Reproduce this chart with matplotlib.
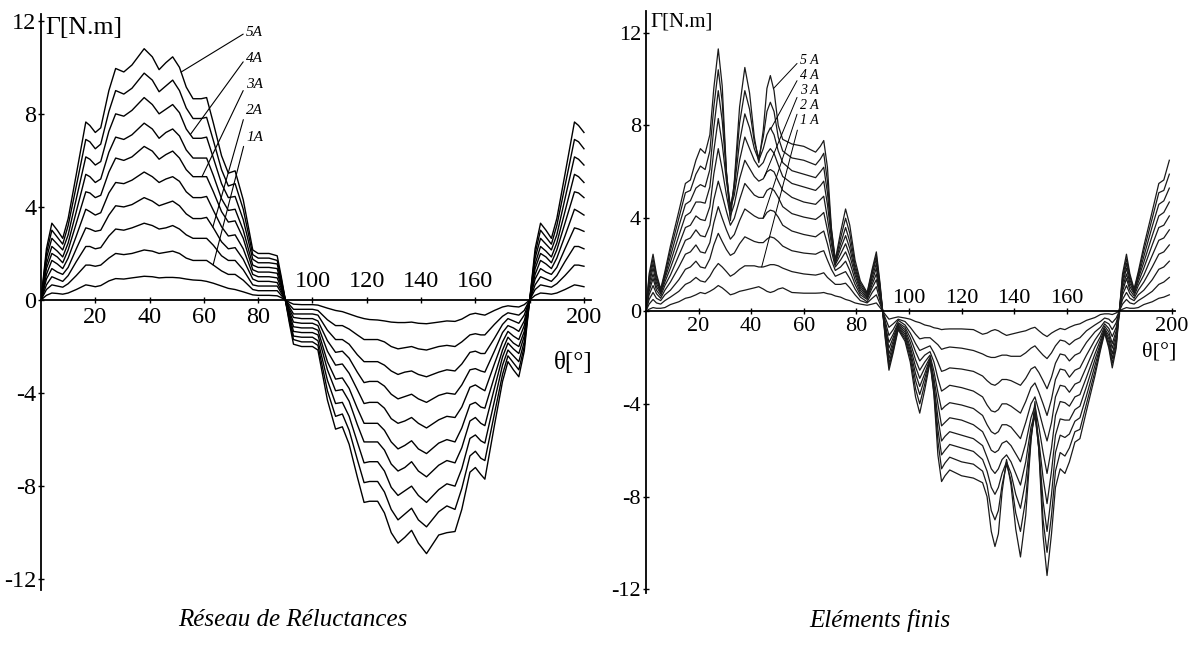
import numpy as np
import matplotlib.pyplot as plt

# ---- Réseau de réluctances (left) : torque vs rotor angle, 0.5 A .. 5 A ----
theta_left = [0, 2, 4, 6, 8, 10, 13, 16.5, 18, 20, 22, 25, 27.5, 30.5, 33.5, 38, 41, 43.5, 46, 48.5,
              51, 53.5, 56, 59, 61, 63.5, 66.5, 69, 71.5, 74.5, 78, 80, 84, 87, 88.5, 90,
              91.5, 93, 96, 100, 102, 105.5, 108.5, 111, 113.5, 116.5, 119, 121, 124, 126.5, 129, 131.5,
              134, 136.5, 139, 142, 146.5, 149.5, 152.5, 155, 158, 160, 162, 163.5, 167, 170, 172, 174,
              176, 178, 180,
              182, 184, 186, 188, 190, 193, 196.5, 198, 200]

L50 = [0, 2.2, 3.3, 3.0, 2.65, 3.5, 5.4, 7.65, 7.5, 7.2, 7.4, 9.0, 9.95, 9.8, 10.1, 10.8, 10.45, 9.9, 10.2, 10.45,
       10.0, 9.15, 8.65, 8.65, 8.7, 7.6, 6.2, 5.45, 5.55, 4.3, 2.15, 2.0, 2.0, 1.9, 1.0, 0,
       -1.0, -1.9, -2.0, -2.0, -2.15, -4.3, -5.55, -5.45, -6.2, -7.6, -8.7, -8.65, -8.65, -9.15, -10.0, -10.45,
       -10.2, -9.9, -10.45, -10.9, -10.1, -10.0, -9.95, -9.0, -7.4, -7.2, -7.5, -7.7, -5.4, -3.5, -2.65, -3.0,
       -3.3, -2.2, 0,
       2.2, 3.3, 3.0, 2.65, 3.5, 5.4, 7.65, 7.5, 7.2]
L45 = [0, 2.0, 3.0, 2.7, 2.4, 3.2, 4.9, 6.9, 6.8, 6.5, 6.7, 8.1, 9.0, 8.85, 9.1, 9.75, 9.45, 8.95, 9.2, 9.45,
       9.0, 8.25, 7.8, 7.8, 7.85, 6.85, 5.6, 4.9, 5.0, 3.9, 1.95, 1.8, 1.8, 1.7, 0.9, 0,
       -0.9, -1.7, -1.8, -1.8, -1.95, -3.9, -5.0, -4.9, -5.6, -6.85, -7.85, -7.8, -7.8, -8.25, -9.0, -9.45,
       -9.2, -8.95, -9.45, -9.75, -9.1, -8.85, -9.0, -8.1, -6.7, -6.5, -6.8, -6.9, -4.9, -3.2, -2.4, -2.7,
       -3.0, -2.0, 0,
       2.0, 3.0, 2.7, 2.4, 3.2, 4.9, 6.9, 6.8, 6.5]
L40 = [0, 1.8, 2.65, 2.4, 2.15, 2.8, 4.35, 6.15, 6.05, 5.8, 5.95, 7.25, 8.0, 7.9, 8.15, 8.7, 8.4, 8.0, 8.2, 8.4,
       8.05, 7.35, 6.95, 6.95, 7.0, 6.1, 5.0, 4.4, 4.45, 3.45, 1.75, 1.6, 1.6, 1.55, 0.8, 0,
       -0.8, -1.55, -1.6, -1.6, -1.75, -3.45, -4.45, -4.4, -5.0, -6.1, -7.0, -6.95, -6.95, -7.35, -8.05, -8.4,
       -8.2, -8.0, -8.4, -8.7, -8.15, -7.9, -8.0, -7.25, -5.95, -5.8, -6.05, -6.15, -4.35, -2.8, -2.15, -2.4,
       -2.65, -1.8, 0,
       1.8, 2.65, 2.4, 2.15, 2.8, 4.35, 6.15, 6.05, 5.8]
L35 = [0, 1.55, 2.3, 2.1, 1.85, 2.45, 3.8, 5.4, 5.3, 5.05, 5.2, 6.35, 7.0, 6.9, 7.1, 7.6, 7.35, 6.95, 7.2, 7.35,
       7.05, 6.45, 6.1, 6.1, 6.1, 5.35, 4.35, 3.85, 3.9, 3.0, 1.5, 1.4, 1.4, 1.35, 0.7, 0,
       -0.7, -1.35, -1.4, -1.4, -1.5, -3.0, -3.9, -3.85, -4.35, -5.35, -6.1, -6.1, -6.1, -6.45, -7.05, -7.35,
       -7.2, -6.95, -7.35, -7.6, -7.1, -6.9, -7.0, -6.35, -5.2, -5.05, -5.3, -5.4, -3.8, -2.45, -1.85, -2.1,
       -2.3, -1.55, 0,
       1.55, 2.3, 2.1, 1.85, 2.45, 3.8, 5.4, 5.3, 5.05]
L30 = [0, 1.35, 2.0, 1.85, 1.6, 2.15, 3.3, 4.65, 4.6, 4.4, 4.5, 5.5, 6.1, 6.0, 6.15, 6.6, 6.4, 6.05, 6.25, 6.4,
       6.1, 5.6, 5.3, 5.3, 5.3, 4.65, 3.8, 3.35, 3.4, 2.65, 1.3, 1.2, 1.2, 1.15, 0.6, 0,
       -0.6, -1.15, -1.2, -1.2, -1.3, -2.65, -3.4, -3.35, -3.8, -4.65, -5.3, -5.3, -5.3, -5.6, -6.1, -6.4,
       -6.25, -6.05, -6.4, -6.6, -6.15, -6.0, -6.1, -5.5, -4.5, -4.4, -4.6, -4.65, -3.3, -2.15, -1.6, -1.85,
       -2.0, -1.35, 0,
       1.35, 2.0, 1.85, 1.6, 2.15, 3.3, 4.65, 4.6, 4.4]
L25 = [0, 1.1, 1.7, 1.55, 1.35, 1.8, 2.75, 3.9, 3.8, 3.65, 3.75, 4.6, 5.05, 5.0, 5.15, 5.5, 5.3, 5.05, 5.2, 5.3,
       5.1, 4.65, 4.4, 4.4, 4.45, 3.85, 3.15, 2.75, 2.8, 2.2, 1.1, 1.0, 1.0, 0.95, 0.5, 0,
       -0.5, -0.95, -1.0, -1.0, -1.1, -2.2, -2.8, -2.75, -3.15, -3.85, -4.45, -4.4, -4.4, -4.65, -5.1, -5.3,
       -5.2, -5.05, -5.3, -5.5, -5.15, -5.0, -5.05, -4.6, -3.75, -3.65, -3.8, -3.9, -2.75, -1.8, -1.35, -1.55,
       -1.7, -1.1, 0,
       1.1, 1.7, 1.55, 1.35, 1.8, 2.75, 3.9, 3.8, 3.65]
L20 = [0, 0.9, 1.35, 1.2, 1.1, 1.4, 2.2, 3.1, 3.05, 2.95, 3.0, 3.65, 4.05, 4.0, 4.1, 4.4, 4.25, 4.05, 4.15, 4.25,
       4.05, 3.7, 3.5, 3.5, 3.55, 3.1, 2.5, 2.2, 2.25, 1.75, 0.9, 0.8, 0.8, 0.75, 0.4, 0,
       -0.4, -0.75, -0.8, -0.8, -0.9, -1.75, -2.25, -2.2, -2.5, -3.1, -3.55, -3.5, -3.5, -3.7, -4.05, -4.25,
       -4.15, -4.05, -4.25, -4.4, -4.1, -4.0, -4.05, -3.65, -3.0, -2.95, -3.05, -3.1, -2.2, -1.4, -1.1, -1.2,
       -1.35, -0.9, 0,
       0.9, 1.35, 1.2, 1.1, 1.4, 2.2, 3.1, 3.05, 2.95]
L15 = [0, 0.65, 1.0, 0.9, 0.8, 1.05, 1.65, 2.3, 2.3, 2.2, 2.25, 2.75, 3.05, 3.0, 3.1, 3.3, 3.2, 3.05, 3.1, 3.2,
       3.05, 2.8, 2.65, 2.65, 2.65, 2.35, 1.9, 1.7, 1.7, 1.3, 0.65, 0.6, 0.6, 0.6, 0.3, 0,
       -0.3, -0.6, -0.6, -0.6, -0.65, -1.3, -1.7, -1.7, -1.9, -2.35, -2.65, -2.65, -2.65, -2.8, -3.05, -3.2,
       -3.1, -3.05, -3.2, -3.3, -3.1, -3.0, -3.05, -2.75, -2.25, -2.2, -2.3, -2.3, -1.65, -1.05, -0.8, -0.9,
       -1.0, -0.65, 0,
       0.65, 1.0, 0.9, 0.8, 1.05, 1.65, 2.3, 2.3, 2.2]
L10 = [0, 0.45, 0.65, 0.6, 0.55, 0.7, 1.05, 1.5, 1.5, 1.45, 1.5, 1.8, 2.0, 1.95, 2.0, 2.15, 2.1, 2.0, 2.05, 2.1,
       2.0, 1.8, 1.7, 1.7, 1.7, 1.5, 1.25, 1.1, 1.1, 0.85, 0.45, 0.4, 0.4, 0.4, 0.2, 0,
       -0.2, -0.4, -0.4, -0.4, -0.45, -0.85, -1.1, -1.1, -1.25, -1.5, -1.7, -1.7, -1.7, -1.8, -2.0, -2.1,
       -2.05, -2.0, -2.1, -2.15, -2.0, -1.95, -2.0, -1.8, -1.5, -1.45, -1.5, -1.5, -1.05, -0.7, -0.55, -0.6,
       -0.65, -0.45, 0,
       0.45, 0.65, 0.6, 0.55, 0.7, 1.05, 1.5, 1.5, 1.45]
L05 = [0, 0.2, 0.3, 0.28, 0.25, 0.3, 0.45, 0.65, 0.62, 0.57, 0.62, 0.82, 0.92, 0.9, 0.95, 1.02, 1.0, 0.95, 0.97, 0.97,
       0.95, 0.9, 0.86, 0.84, 0.8, 0.72, 0.6, 0.5, 0.45, 0.35, 0.22, 0.2, 0.2, 0.18, 0.1, 0,
       -0.1, -0.18, -0.2, -0.2, -0.22, -0.35, -0.45, -0.5, -0.6, -0.72, -0.8, -0.84, -0.86, -0.9, -0.95, -0.97,
       -0.97, -0.95, -1.0, -1.02, -0.95, -0.9, -0.92, -0.82, -0.62, -0.57, -0.62, -0.65, -0.45, -0.3, -0.25, -0.28,
       -0.3, -0.2, 0,
       0.2, 0.3, 0.28, 0.25, 0.3, 0.45, 0.65, 0.62, 0.57]

# ---- Eléments finis (right) ----
theta_right = [0, 1.2, 2.7, 4.0, 5.6, 7.2, 9.3, 12.5, 15.0, 16.9, 19.0, 20.7, 22.5, 24.3, 25.8, 27.5, 29.0,
               30.6, 32.1, 33.6, 35.6, 37.6, 39.4, 41.2, 42.9, 44.6, 46.0, 47.3, 48.7, 50.3, 52.0, 55.5, 60.0,
               64.5, 66.3, 67.6, 69.0, 70.5, 72.0, 74.0, 75.9, 77.5, 79.5, 81.5, 84.1, 86.0, 87.6, 89.0, 90.0,
               91.0, 92.4, 94.0, 95.9, 98.5, 100.5, 102.5, 104.1, 106.0, 108.0, 109.5, 111.0, 112.4, 113.7,
               115.5, 120.0, 124.5, 128.0, 129.7, 131.3, 132.7, 134.0, 135.4, 137.1, 138.8, 140.6, 142.4, 144.4,
               146.4, 147.9, 149.4, 151.0, 152.5, 154.2, 155.7, 157.5, 159.3, 161.0, 163.1, 165.0, 167.5, 170.7,
               172.8, 174.4, 176.0, 177.3, 178.8, 180,
               181.2, 182.7, 184.0, 185.6, 187.2, 189.3, 192.5, 195.0, 196.9, 199.0]

R50 = [0, 1.6, 2.45, 1.6, 0.95, 1.7, 2.8, 4.3, 5.5, 5.65, 6.5, 7.0, 6.8, 7.6, 9.6, 11.3, 9.7, 6.0, 3.9, 5.6,
       8.8, 10.5, 9.4, 7.5, 6.4, 7.8, 9.6, 10.15, 9.5, 8.0, 7.4, 7.2, 7.1, 6.85, 7.1, 7.35, 6.2, 3.6, 2.2, 3.4,
       4.4, 3.7, 2.2, 1.3, 0.8, 1.8, 2.55, 1.2, 0,
       -1.2, -2.55, -1.8, -0.8, -1.3, -2.2, -3.7, -4.4, -3.4, -2.2, -3.6, -6.2, -7.35, -7.1, -6.85, -7.1,
       -7.2, -7.4, -8.0, -9.5, -10.15, -9.6, -7.8, -6.4, -7.5, -9.4, -10.6, -8.8, -5.6, -3.9, -6.0, -9.7,
       -11.4, -9.6, -7.6, -6.8, -7.0, -6.5, -5.65, -5.5, -4.3, -2.8, -1.7, -0.95, -1.6, -2.45, -1.6, 0,
       1.6, 2.45, 1.6, 0.95, 1.7, 2.8, 4.3, 5.5, 5.65, 6.5]
R45 = [0, 1.45, 2.25, 1.5, 0.9, 1.6, 2.6, 4.0, 5.1, 5.2, 5.9, 6.25, 6.1, 6.9, 8.8, 10.4, 9.0, 6.0, 4.3, 5.5,
       8.1, 9.5, 8.7, 7.3, 6.6, 7.5, 8.6, 9.0, 8.6, 7.5, 6.9, 6.6, 6.5, 6.3, 6.55, 6.8, 5.6, 3.5, 2.15, 3.15,
       4.0, 3.35, 2.0, 1.2, 0.75, 1.7, 2.4, 1.1, 0,
       -1.1, -2.4, -1.7, -0.75, -1.2, -2.0, -3.35, -4.0, -3.15, -2.15, -3.5, -5.6, -6.8, -6.55, -6.3, -6.5,
       -6.6, -6.9, -7.5, -8.6, -9.0, -8.6, -7.5, -6.6, -7.3, -8.7, -9.5, -8.1, -5.5, -4.3, -6.0, -9.0,
       -10.4, -8.8, -6.9, -6.1, -6.25, -5.9, -5.2, -5.1, -4.0, -2.6, -1.6, -0.9, -1.5, -2.25, -1.45, 0,
       1.45, 2.25, 1.5, 0.9, 1.6, 2.6, 4.0, 5.1, 5.2, 5.9]
R40 = [0, 1.3, 2.05, 1.35, 0.85, 1.5, 2.35, 3.65, 4.6, 4.75, 5.3, 5.45, 5.35, 6.1, 7.9, 9.5, 8.2, 5.9, 4.5, 5.3,
       7.3, 8.5, 7.9, 7.0, 6.5, 7.0, 7.6, 7.9, 7.6, 6.9, 6.4, 6.05, 5.9, 5.75, 6.0, 6.2, 5.1, 3.35, 2.1, 2.9,
       3.6, 3.0, 1.85, 1.1, 0.7, 1.6, 2.25, 1.0, 0,
       -1.0, -2.25, -1.6, -0.7, -1.1, -1.85, -3.0, -3.6, -2.9, -2.1, -3.35, -5.1, -6.2, -6.0, -5.75, -5.9,
       -6.05, -6.4, -6.9, -7.6, -7.9, -7.6, -7.0, -6.5, -7.0, -7.9, -8.5, -7.3, -5.3, -4.5, -5.9, -8.2,
       -9.5, -7.9, -6.1, -5.35, -5.45, -5.3, -4.75, -4.6, -3.65, -2.35, -1.5, -0.85, -1.35, -2.05, -1.3, 0,
       1.3, 2.05, 1.35, 0.85, 1.5, 2.35, 3.65, 4.6, 4.75, 5.3]
R35 = [0, 1.15, 1.85, 1.2, 0.8, 1.4, 2.1, 3.25, 4.1, 4.25, 4.7, 4.7, 4.65, 5.35, 6.9, 8.3, 7.2, 5.6, 4.4, 5.0,
       6.5, 7.5, 7.0, 6.5, 6.2, 6.4, 6.8, 7.0, 6.8, 6.3, 5.8, 5.5, 5.35, 5.2, 5.4, 5.6, 4.6, 3.15, 2.05, 2.7,
       3.25, 2.7, 1.7, 1.0, 0.65, 1.45, 2.05, 0.9, 0,
       -0.9, -2.05, -1.45, -0.65, -1.0, -1.7, -2.7, -3.25, -2.7, -2.05, -3.15, -4.6, -5.6, -5.4, -5.2, -5.35,
       -5.5, -5.8, -6.3, -6.8, -7.0, -6.8, -6.4, -6.2, -6.5, -7.0, -7.5, -6.5, -5.0, -4.4, -5.6, -7.2,
       -8.3, -6.9, -5.35, -4.65, -4.7, -4.7, -4.25, -4.1, -3.25, -2.1, -1.4, -0.8, -1.2, -1.85, -1.15, 0,
       1.15, 1.85, 1.2, 0.8, 1.4, 2.1, 3.25, 4.1, 4.25, 4.7]
R30 = [0, 1.0, 1.6, 1.05, 0.75, 1.25, 1.85, 2.85, 3.6, 3.7, 4.1, 3.95, 3.9, 4.5, 5.9, 7.0, 6.1, 5.0, 4.1, 4.6,
       5.7, 6.5, 6.15, 5.8, 5.6, 5.7, 6.0, 6.1, 6.0, 5.6, 5.2, 4.9, 4.7, 4.6, 4.8, 4.95, 4.0, 2.9, 2.0, 2.45,
       2.9, 2.4, 1.55, 0.9, 0.6, 1.3, 1.85, 0.8, 0,
       -0.8, -1.85, -1.3, -0.6, -0.9, -1.55, -2.4, -2.9, -2.45, -2.0, -2.9, -4.0, -4.95, -4.8, -4.6, -4.7,
       -4.9, -5.2, -5.6, -6.0, -6.1, -6.0, -5.7, -5.6, -5.8, -6.15, -6.5, -5.7, -4.6, -4.1, -5.0, -6.1,
       -7.0, -5.9, -4.5, -3.9, -3.95, -4.1, -3.7, -3.6, -2.85, -1.85, -1.25, -0.75, -1.05, -1.6, -1.0, 0,
       1.0, 1.6, 1.05, 0.75, 1.25, 1.85, 2.85, 3.6, 3.7, 4.1]
R25 = [0, 0.85, 1.4, 0.9, 0.65, 1.1, 1.55, 2.4, 3.05, 3.15, 3.5, 3.25, 3.2, 3.7, 4.8, 5.6, 5.0, 4.3, 3.7, 4.0,
       4.8, 5.5, 5.25, 5.0, 4.9, 4.9, 5.2, 5.3, 5.2, 4.9, 4.5, 4.2, 4.05, 3.95, 4.1, 4.25, 3.5, 2.6, 1.9, 2.2,
       2.55, 2.1, 1.35, 0.8, 0.55, 1.15, 1.6, 0.7, 0,
       -0.7, -1.6, -1.15, -0.55, -0.8, -1.35, -2.1, -2.55, -2.2, -1.9, -2.6, -3.5, -4.25, -4.1, -3.95, -4.05,
       -4.2, -4.5, -4.9, -5.2, -5.3, -5.2, -4.9, -4.9, -5.0, -5.25, -5.5, -4.8, -4.0, -3.7, -4.3, -5.0,
       -5.6, -4.8, -3.7, -3.2, -3.25, -3.5, -3.15, -3.05, -2.4, -1.55, -1.1, -0.65, -0.9, -1.4, -0.85, 0,
       0.85, 1.4, 0.9, 0.65, 1.1, 1.55, 2.4, 3.05, 3.15, 3.5]
R20 = [0, 0.7, 1.1, 0.75, 0.55, 0.9, 1.25, 1.9, 2.45, 2.55, 2.85, 2.55, 2.5, 2.95, 3.8, 4.5, 4.0, 3.5, 3.1, 3.3,
       3.9, 4.4, 4.25, 4.1, 4.0, 4.0, 4.25, 4.35, 4.3, 4.05, 3.7, 3.45, 3.3, 3.2, 3.35, 3.45, 2.9, 2.2, 1.75, 1.9,
       2.15, 1.75, 1.15, 0.7, 0.5, 1.0, 1.35, 0.6, 0,
       -0.6, -1.35, -1.0, -0.5, -0.7, -1.15, -1.75, -2.15, -1.9, -1.75, -2.2, -2.9, -3.45, -3.35, -3.2, -3.3,
       -3.45, -3.7, -4.05, -4.3, -4.35, -4.25, -4.0, -4.0, -4.1, -4.25, -4.4, -3.9, -3.3, -3.1, -3.5, -4.0,
       -4.5, -3.8, -2.95, -2.5, -2.55, -2.85, -2.55, -2.45, -1.9, -1.25, -0.9, -0.55, -0.75, -1.1, -0.7, 0,
       0.7, 1.1, 0.75, 0.55, 0.9, 1.25, 1.9, 2.45, 2.55, 2.85]
R15 = [0, 0.5, 0.8, 0.55, 0.45, 0.7, 0.9, 1.35, 1.8, 1.9, 2.15, 1.9, 1.85, 2.25, 2.85, 3.35, 3.0, 2.65, 2.4, 2.5,
       2.9, 3.2, 3.1, 3.0, 2.95, 2.95, 3.1, 3.2, 3.15, 3.0, 2.8, 2.6, 2.5, 2.45, 2.55, 2.6, 2.2, 1.8, 1.5, 1.6,
       1.7, 1.4, 0.95, 0.6, 0.4, 0.8, 1.05, 0.45, 0,
       -0.45, -1.05, -0.8, -0.4, -0.6, -0.95, -1.4, -1.7, -1.6, -1.5, -1.8, -2.2, -2.6, -2.55, -2.45, -2.5,
       -2.6, -2.8, -3.0, -3.15, -3.2, -3.1, -2.95, -2.95, -3.0, -3.1, -3.2, -2.9, -2.5, -2.4, -2.65, -3.0,
       -3.35, -2.85, -2.25, -1.85, -1.9, -2.15, -1.9, -1.8, -1.35, -0.9, -0.7, -0.45, -0.55, -0.8, -0.5, 0,
       0.5, 0.8, 0.55, 0.45, 0.7, 0.9, 1.35, 1.8, 1.9, 2.15]
R10 = [0, 0.3, 0.5, 0.35, 0.3, 0.45, 0.6, 0.85, 1.15, 1.25, 1.45, 1.3, 1.25, 1.5, 1.8, 2.05, 1.9, 1.7, 1.5, 1.6,
       1.8, 1.95, 1.95, 1.95, 1.9, 1.9, 1.95, 2.0, 2.0, 1.95, 1.85, 1.7, 1.6, 1.55, 1.6, 1.65, 1.45, 1.3, 1.15, 1.15,
       1.2, 1.0, 0.7, 0.45, 0.35, 0.55, 0.7, 0.3, 0,
       -0.3, -0.7, -0.55, -0.35, -0.45, -0.7, -1.0, -1.2, -1.15, -1.15, -1.3, -1.45, -1.65, -1.6, -1.55, -1.6,
       -1.7, -1.85, -1.95, -2.0, -2.0, -1.95, -1.9, -1.9, -1.95, -1.95, -1.95, -1.8, -1.6, -1.5, -1.7, -1.9,
       -2.05, -1.8, -1.5, -1.25, -1.3, -1.45, -1.25, -1.15, -0.85, -0.6, -0.45, -0.3, -0.35, -0.5, -0.3, 0,
       0.3, 0.5, 0.35, 0.3, 0.45, 0.6, 0.85, 1.15, 1.25, 1.45]
R05 = [0, 0.08, 0.15, 0.12, 0.12, 0.15, 0.28, 0.4, 0.55, 0.6, 0.7, 0.8, 0.75, 0.85, 0.95, 1.1, 1.0, 0.85, 0.7, 0.75,
       0.85, 0.9, 0.95, 1.0, 1.05, 0.95, 0.85, 0.8, 0.85, 0.95, 1.0, 0.8, 0.77, 0.77, 0.78, 0.8, 0.75, 0.72, 0.65, 0.6,
       0.5, 0.45, 0.35, 0.3, 0.25, 0.3, 0.35, 0.15, 0,
       -0.15, -0.35, -0.3, -0.25, -0.3, -0.35, -0.45, -0.5, -0.6, -0.65, -0.72, -0.75, -0.8, -0.78, -0.77, -0.77,
       -0.8, -1.0, -0.95, -0.85, -0.8, -0.85, -0.95, -1.05, -1.0, -0.95, -0.9, -0.85, -0.75, -0.7, -0.85, -1.0,
       -1.1, -0.95, -0.85, -0.75, -0.8, -0.7, -0.6, -0.55, -0.4, -0.28, -0.15, -0.12, -0.12, -0.15, -0.08, 0,
       0.08, 0.15, 0.12, 0.12, 0.15, 0.28, 0.4, 0.55, 0.6, 0.7]

left_curves = [L05, L10, L15, L20, L25, L30, L35, L40, L45, L50]
right_curves = [R05, R10, R15, R20, R25, R30, R35, R40, R45, R50]

plt.rcParams["font.family"] = ["Liberation Serif", "DejaVu Serif"]

fig = plt.figure(figsize=(11.92, 6.48), dpi=100)
ax1 = fig.add_axes([0.0344, 0.090, 0.4612, 0.8887])
ax2 = fig.add_axes([0.5419, 0.085, 0.4435, 0.8986])


def style_axes(ax, xmax, ylim, tick_size, up_off, down_off):
    ax.set_xlim(0, xmax)
    ax.set_ylim(*ylim)
    for side in ["top", "right"]:
        ax.spines[side].set_visible(False)
    for side in ["left", "bottom"]:
        ax.spines[side].set_position(("data", 0))
        ax.spines[side].set_linewidth(1.3)
    ax.set_yticks([-12, -8, -4, 0, 4, 8, 12])
    ax.set_yticklabels(["-12", "-8", "-4", "0", "4", "8", "12"], fontsize=tick_size)
    ax.set_xticks(range(20, 201, 20))
    ax.set_xticklabels([])
    ax.tick_params(direction="inout", length=5, width=1, pad=1)
    # 20..80 and 200 under the axis, 100..160 above it (curves are below there)
    for t in [20, 40, 60, 80, 200]:
        ax.annotate(str(t), xy=(t, 0), xytext=(0, -down_off), textcoords="offset points",
                    ha="center", va="top", fontsize=tick_size)
    for t in [100, 120, 140, 160]:
        ax.annotate(str(t), xy=(t, 0), xytext=(0, up_off), textcoords="offset points",
                    ha="center", va="bottom", fontsize=tick_size)


# left panel
for c in left_curves:
    ax1.plot(theta_left, c, color="black", lw=1.0)
style_axes(ax1, 202.5, (-12.45, 12.3), 17.5, 6, 5)
ax1.text(1.5, 11.7, "Γ[N.m]", fontsize=18.5, ha="left", va="center")
ax1.text(196, -2.7, "θ[°]", fontsize=18, ha="center", va="center")

left_tags = [("5A", L50, 51.6, 11.5), ("4A", L40, 55, 10.4), ("3A", L30, 59.3, 9.25),
             ("2A", L20, 63.3, 8.15), ("1A", L10, 63.4, 7.0)]
for tag, curve, th, ytxt in left_tags:
    ax1.annotate(tag, xy=(th, np.interp(th, theta_left, curve)), xytext=(75.5, ytxt),
                 fontsize=11, style="italic", ha="left", va="center",
                 arrowprops=dict(arrowstyle="-", lw=0.8, color="black",
                                 shrinkA=0, shrinkB=0, relpos=(0, 0.5)))

# right panel
for c in right_curves:
    ax2.plot(theta_right, c, color="#1a1a1a", lw=0.9)
style_axes(ax2, 201, (-12.15, 12.95), 16, 2, 4)
ax2.text(1.5, 12.45, "Γ[N.m]", fontsize=15, ha="left", va="center")
ax2.text(195, -1.75, "θ[°]", fontsize=16, ha="center", va="center")

right_tags = [("5 A", R50, 48.5, 10.8), ("4 A", R40, 47.5, 10.15), ("3 A", R30, 45.0, 9.5),
              ("2 A", R20, 44.5, 8.85), ("1 A", R10, 44.0, 8.2)]
for tag, curve, th, ytxt in right_tags:
    ax2.annotate(tag, xy=(th, np.interp(th, theta_right, curve)), xytext=(58.5, ytxt),
                 fontsize=10, style="italic", ha="left", va="center",
                 arrowprops=dict(arrowstyle="-", lw=0.7, color="black",
                                 shrinkA=0, shrinkB=0, relpos=(0, 0.5)))

fig.text(0.246, 0.043, "Réseau de Réluctances", fontsize=18, style="italic", ha="center", va="center")
fig.text(0.738, 0.043, "Eléments finis", fontsize=18, style="italic", ha="center", va="center")

fig.savefig("out.png", dpi=100)
